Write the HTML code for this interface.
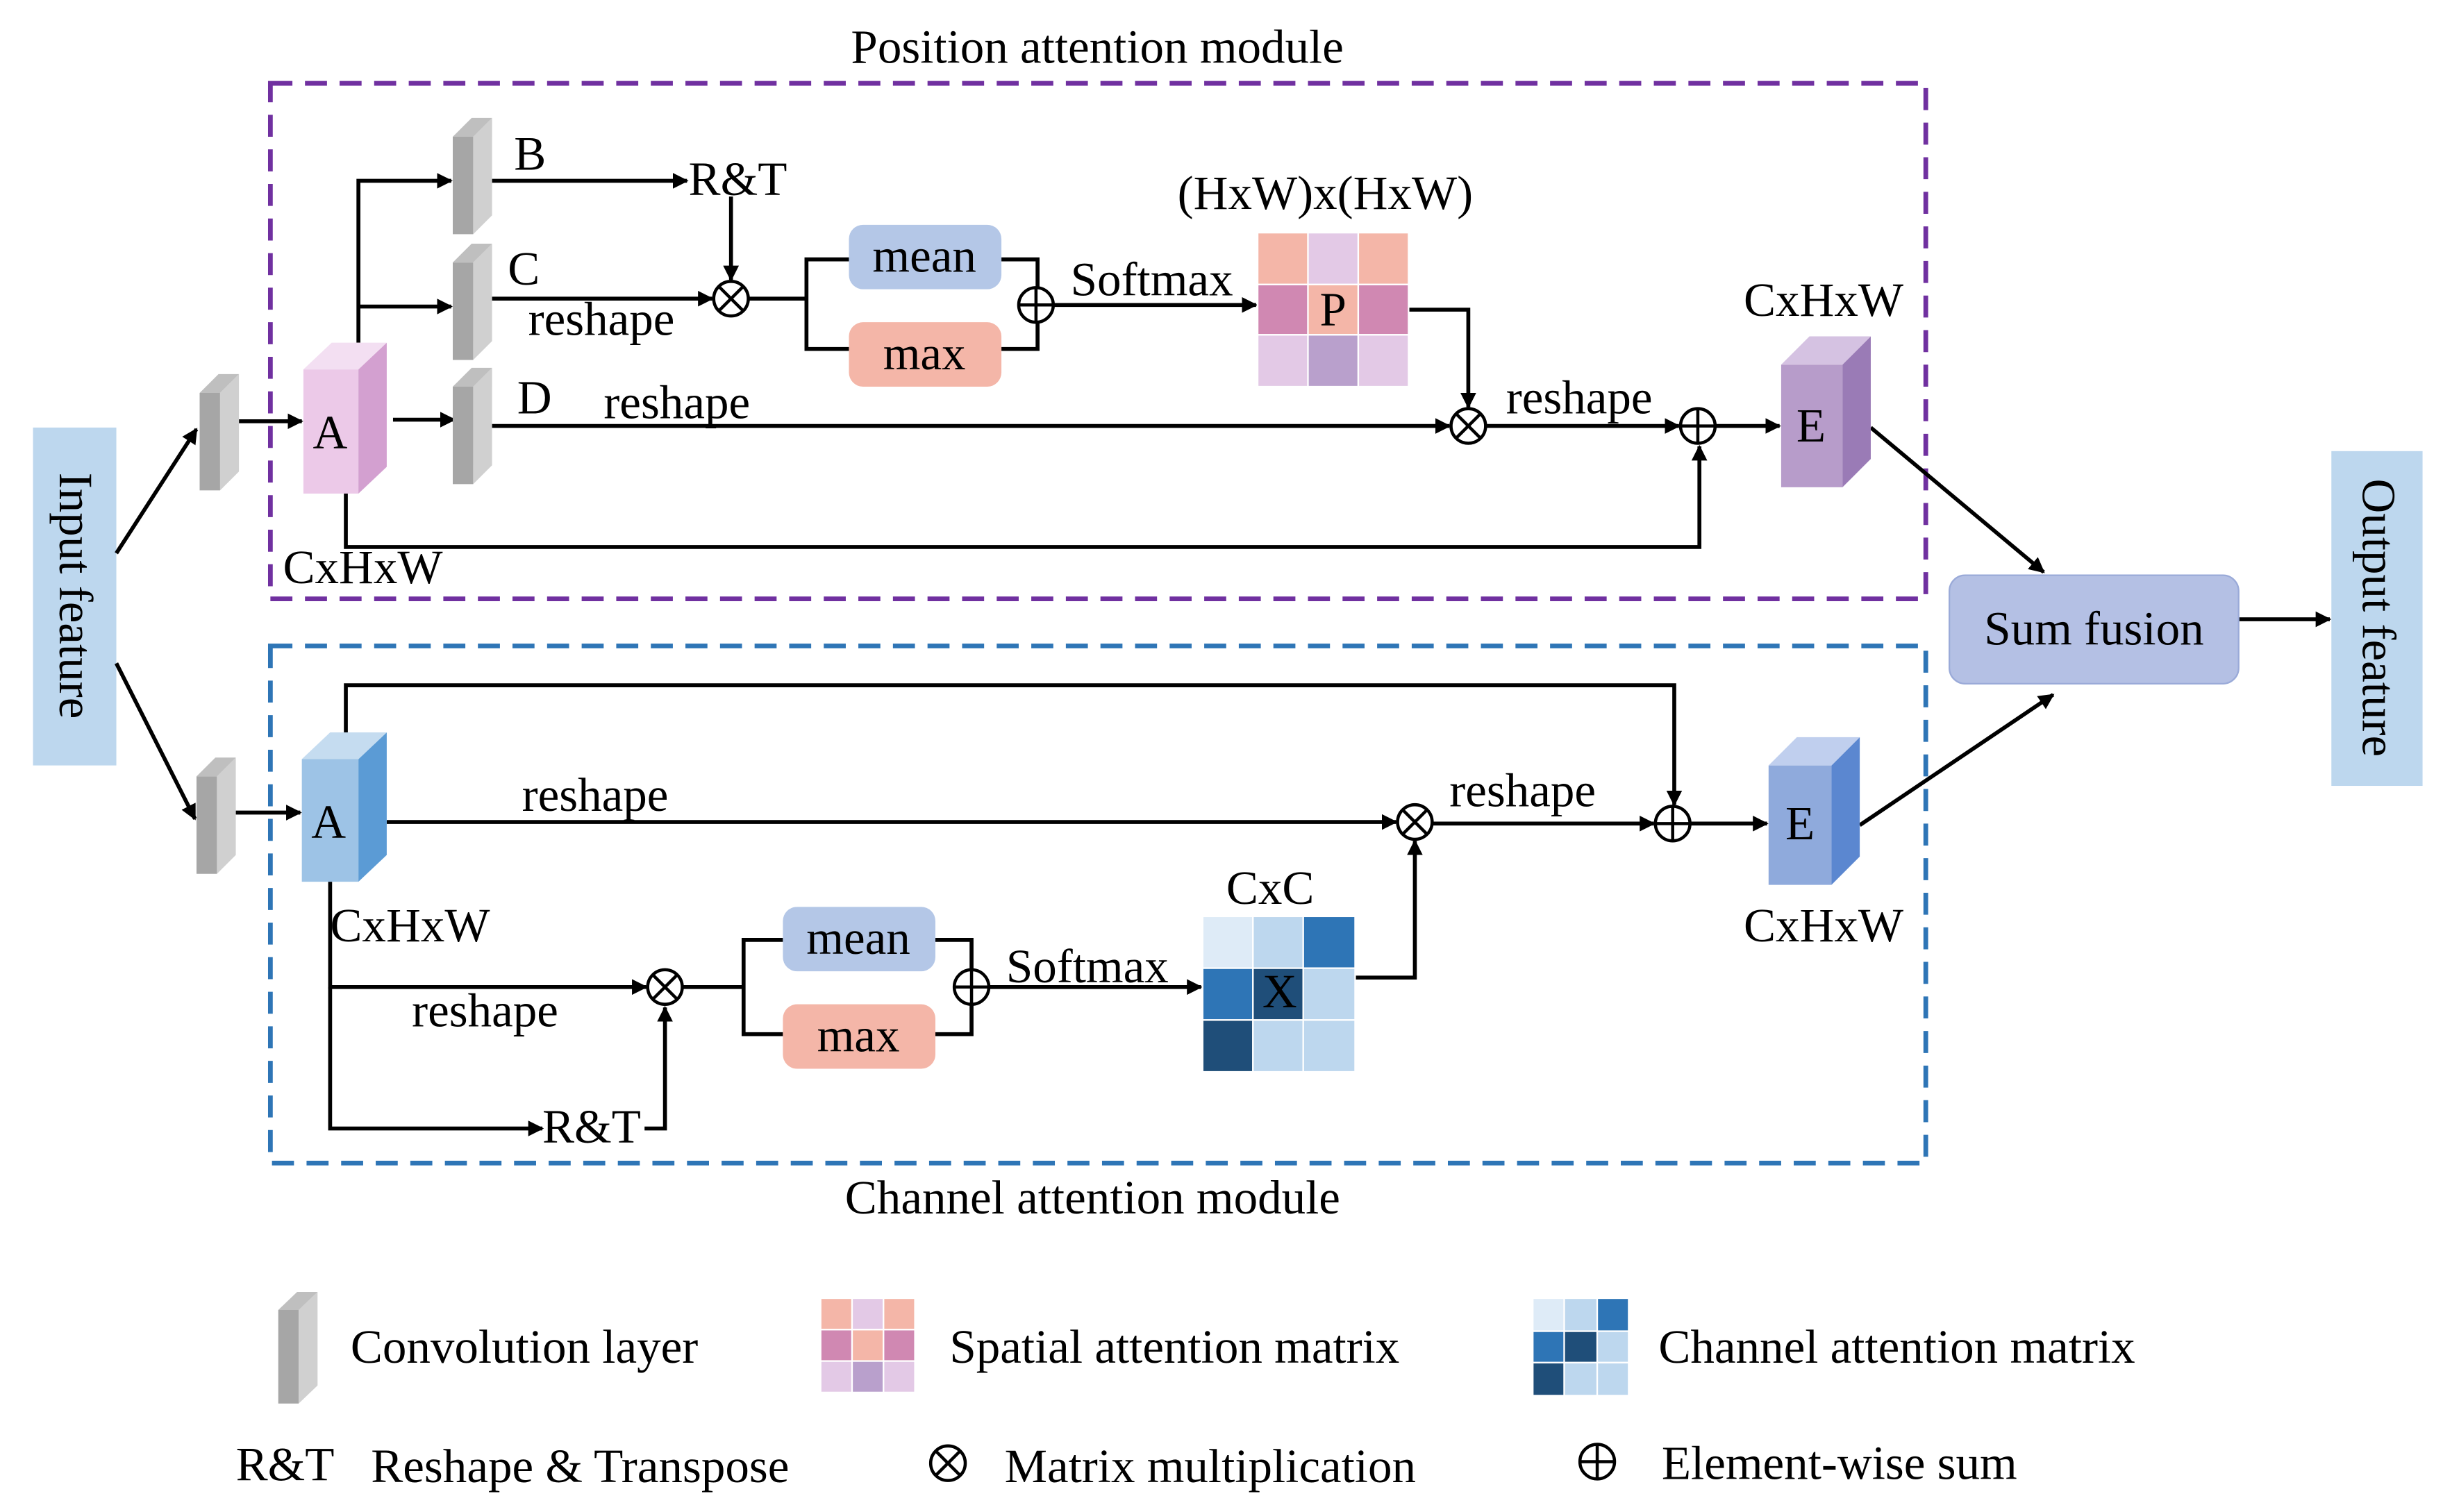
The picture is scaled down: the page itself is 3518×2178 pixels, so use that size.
<!DOCTYPE html>
<html><head><meta charset="utf-8"><style>
html,body{margin:0;padding:0;background:#fff}
svg{display:block}
text{font-family:"Liberation Serif",serif;font-size:30.5px;fill:#000}
</style></head><body>
<svg width="3518" height="2178" viewBox="0 0 1554 962" xmlns="http://www.w3.org/2000/svg">
<defs>
<marker id="ar" markerWidth="10" markerHeight="10" refX="9" refY="5" orient="auto" markerUnits="userSpaceOnUse">
<path d="M0,0 L10,5 L0,10 z" fill="#000"/></marker>
<g id="conv"><polygon points="0,12 13,12 13,74 0,74" fill="#a6a6a6"/><polygon points="13,12 25,0 25,62 13,74" fill="#d0d0d0"/><polygon points="0,12 12,0 25,0 13,12" fill="#bfbfbf"/></g>
<g id="mul"><circle r="11" fill="#fff" stroke="#000" stroke-width="2"/><path d="M-7.8,-7.8L7.8,7.8M7.8,-7.8L-7.8,7.8" stroke="#000" stroke-width="2"/></g>
<g id="add"><circle r="11" fill="#fff" stroke="#000" stroke-width="2"/><path d="M-11,0H11M0,-11V11" stroke="#000" stroke-width="2"/></g>
</defs>
<rect x="21" y="272" width="53" height="215" fill="#bdd7ee"/>
<text transform="translate(38,379) rotate(90)" text-anchor="middle">Input feature</text>
<rect x="1483" y="287" width="58" height="213" fill="#bdd7ee"/>
<text transform="translate(1503,393) rotate(90)" text-anchor="middle">Output feature</text>
<rect x="172" y="53" width="1053" height="328" fill="none" stroke="#7030a0" stroke-width="3" stroke-dasharray="14,8"/>
<rect x="172" y="411" width="1053" height="329" fill="none" stroke="#2e75b6" stroke-width="3" stroke-dasharray="14,8"/>
<text x="698" y="40" text-anchor="middle">Position attention module</text>
<text x="695" y="772" text-anchor="middle">Channel attention module</text>

<g stroke="#000" stroke-width="2.5" fill="none" marker-end="url(#ar)">
<path d="M74,352L125,273"/><path d="M74,422L124,521"/>
<path d="M152,268H192"/>
<path d="M228,218V115H287"/><path d="M228,195H287"/><path d="M250,267H289"/>
<path d="M313,115H437"/><path d="M465,125V178"/><path d="M313,190H453"/>
<path d="M670,194H799"/>
<path d="M896,197H934V259"/>
<path d="M313,271H922"/><path d="M945,271H1068"/><path d="M1091,271H1132"/>
<path d="M220,314V348H1081V284"/>
<path d="M1190,272L1300,364"/><path d="M1424,394H1482"/><path d="M1183,525L1306,442"/>
<path d="M150,517H191"/>
<path d="M220,466V436H1065V512"/>
<path d="M246,523H888"/><path d="M911,524H1052"/><path d="M1075,524H1124"/>
<path d="M210,561V628H411"/><path d="M210,628V718H345"/><path d="M410,718H423V641"/>
<path d="M629,628H764"/>
<path d="M862,622H900V535"/>
</g>
<g stroke="#000" stroke-width="2.5" fill="none">
<path d="M476,190H513M540,165H513V222H540M637,165H660V222H637"/>
<path d="M434,628H473M498,598H473V658H498M595,598H618V658H595"/>
</g>
<use href="#conv" x="127" y="238"/><use href="#conv" x="288" y="75"/><use href="#conv" x="288" y="155"/><use href="#conv" x="288" y="234"/>
<use href="#conv" x="125" y="482"/>
<polygon points="193,235 228,235 228,314 193,314" fill="#ecc9e8"/><polygon points="228,235 246,218 246,297 228,314" fill="#d3a0d0"/><polygon points="193,235 211,218 246,218 228,235" fill="#f3dff2"/>
<text x="210" y="285" text-anchor="middle">A</text>
<polygon points="1133,232 1172,232 1172,310 1133,310" fill="#b79cca"/><polygon points="1172,232 1190,214 1190,292 1172,310" fill="#9a7bb6"/><polygon points="1133,232 1151,214 1190,214 1172,232" fill="#d5c2e2"/>
<text x="1152" y="281" text-anchor="middle">E</text>
<polygon points="192,483 228,483 228,561 192,561" fill="#9dc3e6"/><polygon points="228,483 246,466 246,544 228,561" fill="#5b9bd5"/><polygon points="192,483 210,466 246,466 228,483" fill="#c5dcf0"/>
<text x="209" y="533" text-anchor="middle">A</text>
<polygon points="1125,487 1165,487 1165,563 1125,563" fill="#8faadc"/><polygon points="1165,487 1183,469 1183,545 1165,563" fill="#5b87d0"/><polygon points="1125,487 1143,469 1183,469 1165,487" fill="#c0cfee"/>
<text x="1145" y="534" text-anchor="middle">E</text>
<rect x="540" y="143" width="97" height="41" rx="9" fill="#b4c7e7"/><text x="588" y="173" text-anchor="middle">mean</text>
<rect x="540" y="205" width="97" height="41" rx="9" fill="#f4b6a8"/><text x="588" y="235" text-anchor="middle">max</text>
<rect x="498" y="577" width="97" height="41" rx="9" fill="#b4c7e7"/><text x="546" y="607" text-anchor="middle">mean</text>
<rect x="498" y="639" width="97" height="41" rx="9" fill="#f4b6a8"/><text x="546" y="669" text-anchor="middle">max</text>
<rect x="1240" y="366" width="184" height="69" rx="10" fill="#b4c0e4" stroke="#9aaad8"/><text x="1332" y="410" text-anchor="middle">Sum fusion</text>
<use href="#mul" x="465" y="190"/><use href="#add" x="659" y="194"/><use href="#mul" x="934" y="271"/><use href="#add" x="1080" y="271"/>
<use href="#mul" x="900" y="523"/><use href="#add" x="1064" y="524"/><use href="#mul" x="423" y="628"/><use href="#add" x="618" y="628"/>
<g stroke="#fff" stroke-width="1">
<rect x="800" y="148" width="32" height="33" fill="#f4b6a8"/><rect x="832" y="148" width="32" height="33" fill="#e3c9e6"/><rect x="864" y="148" width="32" height="33" fill="#f4b6a8"/>
<rect x="800" y="181" width="32" height="32" fill="#d088b2"/><rect x="832" y="181" width="32" height="32" fill="#f4b6a8"/><rect x="864" y="181" width="32" height="32" fill="#d088b2"/>
<rect x="800" y="213" width="32" height="33" fill="#e3c9e6"/><rect x="832" y="213" width="32" height="33" fill="#b9a0cc"/><rect x="864" y="213" width="32" height="33" fill="#e3c9e6"/>
<rect x="765" y="583" width="32" height="33" fill="#deebf7"/><rect x="797" y="583" width="32" height="33" fill="#bdd7ee"/><rect x="829" y="583" width="33" height="33" fill="#2e75b6"/>
<rect x="765" y="616" width="32" height="33" fill="#2e75b6"/><rect x="797" y="616" width="32" height="33" fill="#1f4e79"/><rect x="829" y="616" width="33" height="33" fill="#bdd7ee"/>
<rect x="765" y="649" width="32" height="33" fill="#1f4e79"/><rect x="797" y="649" width="32" height="33" fill="#bdd7ee"/><rect x="829" y="649" width="33" height="33" fill="#bdd7ee"/>
</g>
<text x="848" y="207" text-anchor="middle">P</text>
<text x="814" y="641" text-anchor="middle">X</text>
<text x="327" y="108">B</text><text x="438" y="124">R&amp;T</text>
<text x="323" y="181">C</text><text x="336" y="213">reshape</text>
<text x="329" y="263">D</text><text x="384" y="266">reshape</text>
<text x="681" y="188">Softmax</text>
<text x="843" y="133" text-anchor="middle">(HxW)x(HxW)</text>
<text x="958" y="263">reshape</text>
<text x="1160" y="201" text-anchor="middle">CxHxW</text>
<text x="180" y="371">CxHxW</text>
<text x="332" y="516">reshape</text><text x="922" y="513">reshape</text>
<text x="210" y="599">CxHxW</text>
<text x="262" y="653">reshape</text>
<text x="345" y="727">R&amp;T</text>
<text x="640" y="625">Softmax</text>
<text x="808" y="575" text-anchor="middle">CxC</text>
<text x="1160" y="599" text-anchor="middle">CxHxW</text>
<g transform="translate(177,822) scale(1,0.96)"><use href="#conv"/></g>
<text x="223" y="867">Convolution layer</text>
<g stroke="#fff" stroke-width="1">
<rect x="522" y="826" width="20" height="20" fill="#f4b6a8"/><rect x="542" y="826" width="20" height="20" fill="#e3c9e6"/><rect x="562" y="826" width="20" height="20" fill="#f4b6a8"/>
<rect x="522" y="846" width="20" height="20" fill="#d088b2"/><rect x="542" y="846" width="20" height="20" fill="#f4b6a8"/><rect x="562" y="846" width="20" height="20" fill="#d088b2"/>
<rect x="522" y="866" width="20" height="20" fill="#e3c9e6"/><rect x="542" y="866" width="20" height="20" fill="#b9a0cc"/><rect x="562" y="866" width="20" height="20" fill="#e3c9e6"/>
<rect x="975" y="826" width="20" height="21" fill="#deebf7"/><rect x="995" y="826" width="21" height="21" fill="#bdd7ee"/><rect x="1016" y="826" width="20" height="21" fill="#2e75b6"/>
<rect x="975" y="847" width="20" height="20" fill="#2e75b6"/><rect x="995" y="847" width="21" height="20" fill="#1f4e79"/><rect x="1016" y="847" width="20" height="20" fill="#bdd7ee"/>
<rect x="975" y="867" width="20" height="21" fill="#1f4e79"/><rect x="995" y="867" width="21" height="21" fill="#bdd7ee"/><rect x="1016" y="867" width="20" height="21" fill="#bdd7ee"/>
</g>
<text x="604" y="867">Spatial attention matrix</text>
<text x="1055" y="867">Channel attention matrix</text>
<text x="150" y="942">R&amp;T</text><text x="236" y="943">Reshape &amp; Transpose</text>
<use href="#mul" x="603" y="931"/><text x="639" y="943">Matrix multiplication</text>
<use href="#add" x="1016" y="930"/><text x="1057" y="941">Element-wise sum</text>
</svg>
</body></html>
